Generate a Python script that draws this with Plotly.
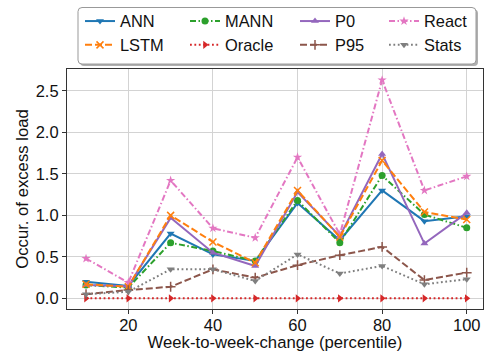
import plotly.graph_objects as go

x = [10, 20, 30, 40, 50, 60, 70, 80, 90, 100]
ann = [0.20, 0.15, 0.78, 0.53, 0.45, 1.15, 0.70, 1.30, 0.93, 0.99]
lstm = [0.17, 0.14, 1.00, 0.68, 0.43, 1.30, 0.74, 1.66, 1.04, 0.95]
mann = [0.16, 0.13, 0.67, 0.57, 0.45, 1.18, 0.67, 1.48, 1.01, 0.85]
oracle = [0, 0, 0, 0, 0, 0, 0, 0, 0, 0]
p0 = [0.16, 0.145, 0.97, 0.55, 0.39, 1.28, 0.75, 1.74, 0.66, 1.03]
p95 = [0.05, 0.10, 0.14, 0.35, 0.25, 0.40, 0.52, 0.62, 0.22, 0.31]
react = [0.48, 0.19, 1.42, 0.845, 0.73, 1.70, 0.77, 2.63, 1.30, 1.47]
stats = [0.05, 0.08, 0.35, 0.35, 0.21, 0.53, 0.30, 0.39, 0.17, 0.23]

x_ticks = [20, 40, 60, 80, 100]
y_ticks = [0.0, 0.5, 1.0, 1.5, 2.0, 2.5]

DASH = "7px,3px"
DASHDOT = "6px,2.5px,1.5px,2.5px"
DOT = "1.8px,2.6px"

series = [
    ("ANN", ann, "#1f77b4", "solid", "triangle-down", "legend"),
    ("MANN", mann, "#2ca02c", DASHDOT, "circle", "legend2"),
    ("P0", p0, "#9467bd", "solid", "triangle-up", "legend3"),
    ("React", react, "#e377c2", DASHDOT, "star", "legend4"),
    ("LSTM", lstm, "#ff7f0e", DASH, "x-thin", "legend5"),
    ("Oracle", oracle, "#d62728", DOT, "triangle-right", "legend6"),
    ("P95", p95, "#8c564b", DASH, "cross-thin", "legend7"),
    ("Stats", stats, "#7f7f7f", DOT, "triangle-down", "legend8"),
]

FONT = "Liberation Sans, Arial, sans-serif"

fig = go.Figure()
for name, vals, color, dash, sym, lg in series:
    thin = sym.endswith("-thin")
    fig.add_trace(go.Scatter(
        x=x, y=vals, name=name, mode="lines+markers", legend=lg,
        line=dict(color=color, width=2, dash=dash),
        marker=dict(symbol=sym, size=7, color=color,
                    line=dict(color=color, width=1.5 if thin else 0)),
    ))

L, R, T, B = 67, 4, 67, 43
W, H = 487, 352
pw, ph = W - L - R, H - T - B

def px(xp):
    return (xp - L) / pw

def py(yp):
    return (H - B - yp) / ph

col_x = [80, 185, 295, 384]
row_y = [19, 43]
legends = {}
for i in range(8):
    key = "legend" if i == 0 else f"legend{i+1}"
    legends[key] = dict(
        x=px(col_x[i % 4]), y=py(row_y[i // 4]), xanchor="left", yanchor="middle",
        bgcolor="rgba(0,0,0,0)", borderwidth=0, itemwidth=30,
        font=dict(family=FONT, size=16.4, color="#111"),
    )

x0, x1, y0, y1 = 78, 476, 5, 62
rx, ry = 4 / pw, 4 / ph

def rounded(xa, ya, xb, yb):
    a, b = px(xa), px(xb)
    top, bot = py(ya), py(yb)
    return (f"M{a+rx},{top} L{b-rx},{top} Q{b},{top} {b},{top-ry} "
            f"L{b},{bot+ry} Q{b},{bot} {b-rx},{bot} L{a+rx},{bot} "
            f"Q{a},{bot} {a},{bot+ry} L{a},{top-ry} Q{a},{top} {a+rx},{top} Z")

shapes = [
    dict(type="path", xref="paper", yref="paper", path=rounded(x0 + 2, y0 + 2, x1 + 2, y1 + 2),
         fillcolor="#b0b0b0", line=dict(width=0), layer="below"),
    dict(type="path", xref="paper", yref="paper", path=rounded(x0, y0, x1, y1),
         fillcolor="white", line=dict(color="#999", width=1), layer="below"),
]

fig.update_layout(
    width=W, height=H,
    margin=dict(l=L, r=R, t=T, b=B),
    paper_bgcolor="white", plot_bgcolor="white",
    font=dict(family=FONT, size=16.5, color="#111"),
    showlegend=True,
    shapes=shapes,
    **legends,
)
fig.update_xaxes(
    range=[5.5, 103.85], tickvals=x_ticks, ticks="outside", ticklen=4, tickcolor="#333",
    ticklabelstandoff=-3,
    showgrid=True, gridcolor="#d3d3d3", gridwidth=1,
    showline=True, mirror=True, linecolor="#333", linewidth=1.2, zeroline=False,
    title=dict(text="Week-to-week-change (percentile)", font=dict(size=16.7), standoff=3),
    tickfont=dict(size=16.5),
)
fig.update_yaxes(
    range=[-0.128, 2.763], tickvals=y_ticks, tickformat=".1f", ticks="outside", ticklen=4,
    tickcolor="#333",
    showgrid=True, gridcolor="#d3d3d3", gridwidth=1,
    showline=True, mirror=True, linecolor="#333", linewidth=1.2, zeroline=False,
    title=dict(text="Occur. of excess load", font=dict(size=16.7), standoff=2),
    tickfont=dict(size=16.5),
)

fig.write_html("out.html", config={"displayModeBar": False},
               post_script="document.body.style.margin='0';document.body.style.overflow='hidden';")
